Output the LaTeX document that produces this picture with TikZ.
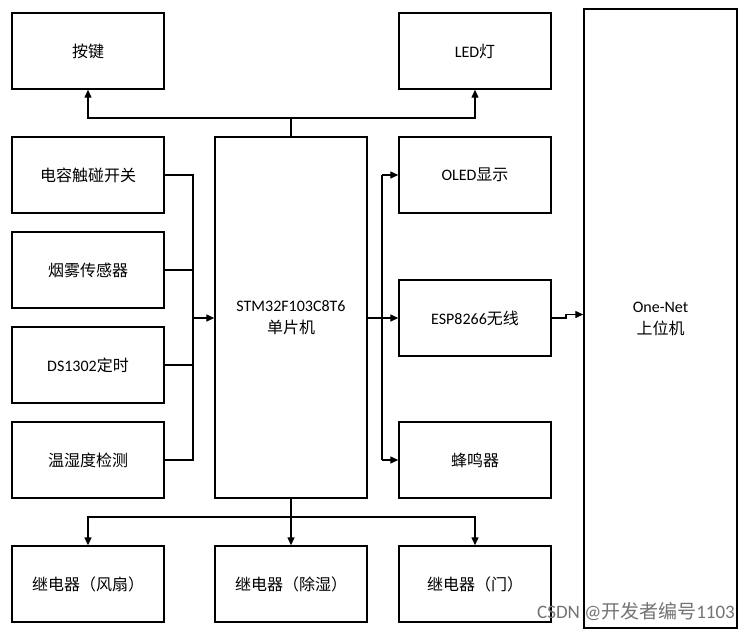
\documentclass[tikz,border=0pt]{standalone}
\usepackage{fontspec}
\setmainfont{Carlito}
\newfontfamily\cjk{Noto Sans CJK SC}
\usepackage{tikz}
\usetikzlibrary{
  arrows.meta,
  calc
}

\begin{document}
\begin{tikzpicture}[
  x=1pt,y=-1pt,
  n/.style={rectangle,draw,line width=1.4pt,fill=white,minimum width=152pt,minimum height=76pt,inner sep=2pt,align=center,font=\fontsize{16}{19}\selectfont},
  l/.style={line width=1.3pt},
  a/.style={-{Triangle[length=8pt,width=7pt]},line width=1.3pt}
]
\useasboundingbox (0,0) rectangle (749,633);
% left column
\node[n] (key) at (88,51) {\cjk 按键};
\node[n] (touch) at (88,175) {\cjk 电容触碰开关};
\node[n] (smoke) at (88,270) {\cjk 烟雾传感器};
\node[n] (clock) at (88,365) {DS1302{\cjk 定时}};
\node[n] (temp) at (88,460) {\cjk 温湿度检测};
\node[n] (fan) at (88,584) {\cjk 继电器（风扇）};
% middle column
\node[n,minimum height=361pt] (mcu) at (291,317.5) {STM32F103C8T6\\[3pt]{\cjk 单片机}};
\node[n] (dry) at (291,584) {\cjk 继电器（除湿）};
% right column
\node[n] (led) at (475,51) {LED{\cjk 灯}};
\node[n] (oled) at (475,175) {OLED{\cjk 显示}};
\node[n] (esp) at (475,318) {ESP8266{\cjk 无线}};
\node[n] (buzz) at (475,460) {\cjk 蜂鸣器};
\node[n] (door) at (475,584) {\cjk 继电器（门）};
% host
\node[n,minimum width=153pt,minimum height=619pt] (host) at (660.5,318.5) {One-Net\\[3pt]{\cjk 上位机}};
\node[text=black!55,font=\fontsize{19}{22}\selectfont,anchor=east,inner sep=0pt] (mark) at (735,612) {CSDN @{\cjk 开发者编号}1103};

\coordinate (tb) at (291,118);
\coordinate (lb) at (193,318);
\coordinate (rb) at (382,318);
\coordinate (bb) at (291,517);
\coordinate (hop) at (566,314.5);

% outputs on top
\draw[l] (mcu.north) -- (tb);
\draw[a] (tb) -| (key.south);
\draw[a] (tb) -| (led.south);
% inputs on the left
\draw[l] (touch.east) -- (touch.east -| lb) -- (temp.east -| lb) -- (temp.east);
\draw[l] (smoke.east) -- (smoke.east -| lb);
\draw[l] (clock.east) -- (clock.east -| lb);
\draw[a] (lb) -- (mcu.west |- lb);
% outputs on the right
\draw[l] (mcu.east |- rb) -- (rb);
\draw[l] (oled.west -| rb) -- (buzz.west -| rb);
\draw[a] (oled.west -| rb) -- (oled.west);
\draw[a] (rb) -- (esp.west);
\draw[a] (buzz.west -| rb) -- (buzz.west);
\draw[a] (esp.east) -- (esp.east -| hop) -- (hop) -- (host.west |- hop);
% relays below
\draw[a] (mcu.south) -- (dry.north);
\draw[a] (bb) -| (fan.north);
\draw[a] (bb) -| (door.north);
\end{tikzpicture}
\end{document}
